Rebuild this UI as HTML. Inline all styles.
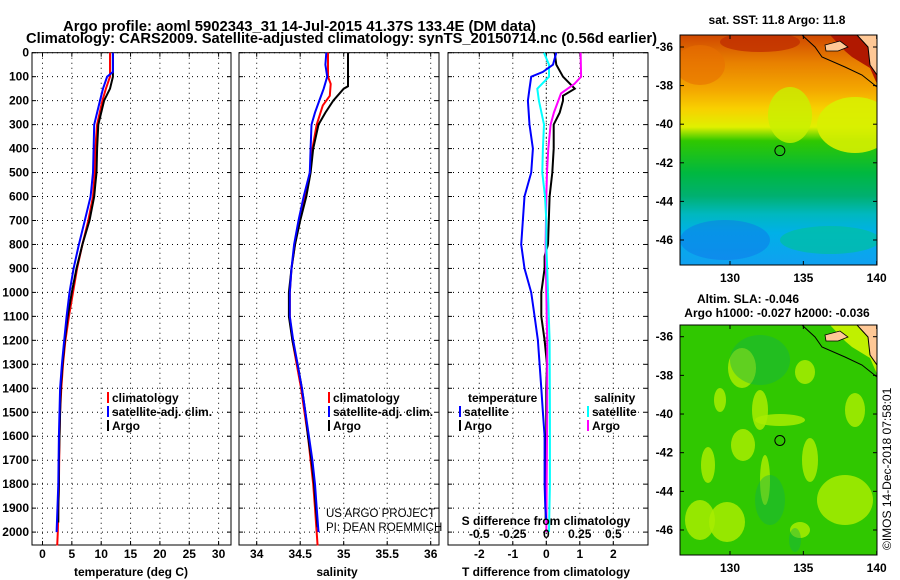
<!DOCTYPE html>
<html><head><meta charset="utf-8"><style>
body{margin:0;background:#fff}
svg{display:block;font-family:"Liberation Sans",sans-serif}
</style></head><body>
<svg id="c" width="900" height="580" viewBox="0 0 900 580"></svg>
<script>
// ---- data ----
const tDepth=[0,80,100,150,200,300,400,500,550,600,700,800,900,1000,1100,1200,1300,1400,1500,1600,1700,1800,1900,1960];
const tArgo=[12.0,12.0,12.0,11.5,10.5,9.5,9.3,9.2,9.0,8.8,8.0,6.8,5.8,5.0,4.3,3.8,3.4,3.1,3.0,2.9,2.8,2.8,2.7,2.7];
const tClimDepth=[0,100,150,200,300,400,500,600,700,800,900,1000,1100,1200,1300,1400,1500,1600,1800,2000,2056];
const tClim=[11.5,11.5,10.8,10.2,9.3,9.0,8.9,8.6,7.8,6.8,5.9,5.2,4.5,3.9,3.5,3.2,3.0,2.9,2.8,2.6,2.5];
const tSatDepth=[0,80,100,150,200,300,400,500,600,700,800,900,1000,1100,1200,1300,1400,1600,1800,2000];
const tSat=[12.0,12.0,11.0,10.3,9.8,8.8,8.7,8.6,8.2,7.2,6.2,5.3,4.6,4.1,3.7,3.3,3.0,2.8,2.7,2.4];
const sArgoDepth=[0,140,150,200,250,300,400,500,600,700,800,900,1000,1100,1200,1300,1400,1500,1600,1700,1800,1900,1980];
const sArgo=[35.05,35.05,35.0,34.88,34.79,34.71,34.65,34.62,34.57,34.50,34.44,34.40,34.37,34.37,34.41,34.47,34.52,34.56,34.59,34.63,34.66,34.68,34.70];
const sClimDepth=[0,100,130,180,220,300,400,500,600,700,800,900,1000,1100,1200,1300,1400,1500,1600,1700,1800,1900,2056];
const sClim=[34.82,34.82,34.85,34.84,34.76,34.69,34.64,34.61,34.56,34.49,34.44,34.40,34.38,34.38,34.41,34.46,34.51,34.55,34.59,34.62,34.65,34.67,34.70];
const sSatDepth=[0,50,100,150,200,250,300,400,500,600,700,800,900,1000,1100,1200,1300,1400,1500,1600,1700,1800,1900,2000];
const sSat=[34.80,34.79,34.81,34.77,34.72,34.67,34.63,34.62,34.61,34.54,34.48,34.43,34.40,34.38,34.38,34.42,34.47,34.52,34.56,34.60,34.64,34.67,34.69,34.71];
const dtSatDepth=[0,50,80,100,150,200,300,400,500,600,800,900,1000,1100,1200,1300,1400,1500,1600,1800,1900,1950];
const dtSat=[0.3,0.2,-0.1,-0.45,-0.5,-0.55,-0.5,-0.4,-0.45,-0.65,-0.75,-0.65,-0.45,-0.35,-0.25,-0.2,-0.15,-0.1,-0.05,-0.05,-0.03,0];
const dtArgoDepth=[0,50,100,150,180,200,250,300,400,500,600,800,850,900,1000,1100,1200,1300,1400,1600,1800,1950];
const dtArgo=[0.25,0.3,0.5,0.85,0.5,0.5,0.4,0.22,0.22,0.18,0.1,0.05,-0.05,-0.05,-0.15,-0.15,-0.05,0.02,0,0,0,-0.02];
const dsSatDepth=[0,50,100,150,200,300,400,500,600,700,800,900,1200,1500,1800,2000];
const dsSat=[-0.017,0.02,0.02,-0.067,-0.055,-0.017,-0.025,-0.03,-0.01,0,0,0.007,0.025,0.027,0.027,0.02];
const dsArgoDepth=[0,100,130,170,250,300,400,500,600,800,1000,1200,1500,2000];
const dsArgo=[0.256,0.26,0.21,0.11,0.057,0.032,0.015,0.005,0,-0.005,0,0.007,0.007,0];
const depthTicks=[0,100,200,300,400,500,600,700,800,900,1000,1100,1200,1300,1400,1500,1600,1700,1800,1900,2000];
const tTicks=[0,5,10,15,20,25,30];
const sTicks=[34,34.5,35,35.5,36];
const dtTicks=[-2,-1,0,1,2];
const dsTicks=[-0.5,-0.25,0,0.25,0.5];
const latTicks=[-36,-38,-40,-42,-44,-46];
const lonTicks=[130,135,140];

const NS='http://www.w3.org/2000/svg';
const svg=document.getElementById('c');
function el(tag,a,parent){const e=document.createElementNS(NS,tag);for(const k in a)e.setAttribute(k,a[k]);(parent||svg).appendChild(e);return e;}
function txt(x,y,s,a,parent){const e=el('text',Object.assign({x:x,y:y,'font-size':12,'font-weight':'bold',fill:'#000'},a||{}),parent);e.textContent=s;return e;}

const TOP=52.7, BOT=545;
const yD=d=>TOP+d*0.2397;
const xT=t=>42.5+t*5.87;
const xS=s=>256.7+(s-34)*87;
const xDT=v=>546.3+v*33.5;
const xDS=v=>546.3+v*134;

let t1=txt(63,31,'Argo profile: aoml 5902343_31 14-Jul-2015 41.37S 133.4E (DM data)',{'font-size':14.5,textLength:473,lengthAdjust:'spacingAndGlyphs'});

let t2=txt(26,43,'Climatology: CARS2009. Satellite-adjusted climatology: synTS_20150714.nc (0.56d earlier)',{'font-size':14.5,textLength:631,lengthAdjust:'spacingAndGlyphs'});


function panel(name,x0,x1,xs,ticks,fmt){
  const g=el('g',{});
  
  
  ticks.forEach(v=>{const x=xs(v);
    el('line',{x1:x,x2:x,y1:TOP,y2:BOT,stroke:'#000','stroke-width':1,'stroke-dasharray':'1,4'},g);
    el('line',{x1:x,x2:x,y1:TOP,y2:TOP+4,stroke:'#000'},g);el('line',{x1:x,x2:x,y1:BOT,y2:BOT-4,stroke:'#000'},g);
    if(fmt){txt(x,558,fmt(v),{'text-anchor':'middle'},g);}
  });
  depthTicks.forEach(d=>{const y=yD(d);
    el('line',{x1:x0,x2:x1,y1:y,y2:y,stroke:'#000','stroke-width':1,'stroke-dasharray':'1,4'},g);
    el('line',{x1:x0,x2:x0+4,y1:y,y2:y,stroke:'#000'},g);el('line',{x1:x1-4,x2:x1,y1:y,y2:y,stroke:'#000'},g);
  });
  el('rect',{x:x0,y:TOP,width:x1-x0,height:BOT-TOP,fill:'none',stroke:'#000','stroke-width':1},g);
  return g;
}
function line(g,name,depths,vals,xs,color,w){
  const p=el('polyline',{points:depths.map((d,i)=>xs(vals[i]).toFixed(1)+','+yD(d).toFixed(1)).join(' '),fill:'none',stroke:color,'stroke-width':w||2},g);
  
  
}
const g1=panel('temperature-panel',32,231,xT,tTicks,v=>String(v));
const g2=panel('salinity-panel',239,439,xS,sTicks,v=>String(v));
const g3=panel('difference-panel',448,648,xDT,dtTicks,v=>String(v));
depthTicks.forEach(d=>{const l=txt(29,yD(d)+4,String(d),{'text-anchor':'end'});
  });
dsTicks.forEach(v=>{const l=txt(xDS(v),538,'',{'text-anchor':'middle'});
  l.textContent=(v===0?'0':(v<0?'-':'')+'0'+String(Math.abs(v)).slice(1));
  });
let lb;
lb=txt(131,576,'temperature (deg C)',{'text-anchor':'middle'});
lb=txt(337,576,'salinity',{'text-anchor':'middle'});
lb=txt(546,576,'T difference from climatology',{'text-anchor':'middle'});
lb=txt(546,525,'S difference from climatology',{'text-anchor':'middle'});

line(g1,'temp-climatology',tClimDepth,tClim,xT,'#ff0000');
line(g1,'temp-argo',tDepth,tArgo,xT,'#000000');
line(g1,'temp-satellite',tSatDepth,tSat,xT,'#0000ff');
line(g2,'sal-climatology',sClimDepth,sClim,xS,'#ff0000');
line(g2,'sal-argo',sArgoDepth,sArgo,xS,'#000000');
line(g2,'sal-satellite',sSatDepth,sSat,xS,'#0000ff');
el('line',{x1:xDT(0),x2:xDT(0),y1:TOP,y2:BOT,stroke:'#000','stroke-dasharray':'1,3'},g3);
line(g3,'t-diff-argo',dtArgoDepth,dtArgo,xDT,'#000000');
line(g3,'s-diff-argo',dsArgoDepth,dsArgo,xDS,'#ff00ff');
line(g3,'s-diff-satellite',dsSatDepth,dsSat,xDS,'#00ffff');
line(g3,'t-diff-satellite',dtSatDepth,dtSat,xDT,'#0000ff');

function leg(x,y,color,label,name){
  const g=el('g',{});
  el('rect',{x:x,y:y-10,width:2,height:11,fill:color},g);
  txt(x+5,y,label,{},g);
}
leg(107,402,'#ff0000','climatology','legend-temp-climatology');
leg(107,416,'#0000ff','satellite-adj. clim.','legend-temp-satellite');
leg(107,430,'#000','Argo','legend-temp-argo');
leg(328,402,'#ff0000','climatology','legend-sal-climatology');
leg(328,416,'#0000ff','satellite-adj. clim.','legend-sal-satellite');
leg(328,430,'#000','Argo','legend-sal-argo');
lb=txt(468,402,'temperature');
leg(459,416,'#0000ff','satellite','legend-dt-satellite');
leg(459,430,'#000','Argo','legend-dt-argo');
lb=txt(594,402,'salinity');
leg(587,416,'#00ffff','satellite','legend-ds-satellite');
leg(587,430,'#ff00ff','Argo','legend-ds-argo');
lb=txt(326,517,'US ARGO PROJECT',{'font-weight':'normal','font-size':11.5});
lb=txt(326,531,'PI: DEAN ROEMMICH',{'font-weight':'normal','font-size':11.5});

// maps
const defs=el('defs',{});
const gr1=el('linearGradient',{id:'sst',x1:0,y1:0,x2:0,y2:1},defs);
[[0,'#d04800'],[0.12,'#e88000'],[0.24,'#f4a800'],[0.32,'#f8d000'],[0.4,'#e0f000'],[0.46,'#30c800'],[0.6,'#00b840'],[0.7,'#00b070'],[0.78,'#00b8c0'],[0.86,'#00b0e8'],[1,'#10a0f0']].forEach(s=>el('stop',{offset:s[0],'stop-color':s[1]},gr1));
function map(name,y0,y1,titles,sst){
  const g=el('g',{});
  const lat0=sst?47:336.7, lat1=sst?240:530, dl=(lat1-lat0)/10;
  const yL=l=>lat0+(-36-l)*dl;
  const xL=l=>730+(l-130)*14.67;
  const cp='clip-'+name;
  const c=el('clipPath',{id:cp},defs);el('rect',{x:680,y:y0,width:197,height:y1-y0},c);
  const inner=el('g',{'clip-path':'url(#'+cp+')'},g);
  if(sst){
    el('rect',{x:680,y:y0,width:197,height:y1-y0,fill:'url(#sst)'},inner);
    el('ellipse',{cx:855,cy:125,rx:38,ry:28,fill:'#d8f000',opacity:0.9},inner);
    el('ellipse',{cx:790,cy:115,rx:22,ry:28,fill:'#c8f000',opacity:0.8},inner);
    el('ellipse',{cx:760,cy:42,rx:40,ry:10,fill:'#c03000',opacity:0.8},inner);
    el('ellipse',{cx:700,cy:65,rx:25,ry:20,fill:'#e87000',opacity:0.6},inner);
    el('ellipse',{cx:830,cy:240,rx:50,ry:14,fill:'#00c0a0',opacity:0.7},inner);
    el('ellipse',{cx:725,cy:240,rx:45,ry:20,fill:'#1070e8',opacity:0.45},inner);
  }else{
    el('rect',{x:680,y:y0,width:197,height:y1-y0,fill:'#30c800'},inner);
    [[742,368,14,20],[805,372,10,12],[855,410,10,17],[743,445,12,16],[708,465,7,18],[810,460,8,22],[845,500,28,25],[727,522,18,20],[765,480,5,25],[780,420,25,6],[760,410,8,20],[720,400,6,12],[800,530,10,8],[700,520,15,20]].forEach(b=>
      el('ellipse',{cx:b[0],cy:b[1],rx:b[2],ry:b[3],fill:'#a8ec00',opacity:0.85},inner));
    [[760,360,30,25],[770,500,15,25],[795,540,6,12]].forEach(b=>el('ellipse',{cx:b[0],cy:b[1],rx:b[2],ry:b[3],fill:'#10b050',opacity:0.4},inner));
  }
  const ty=y0;
  el('path',{d:`M830,${ty} L845,${ty+16} L852,${ty+22} L870,${ty+33} L877,${ty+49} L877,${ty} Z`,fill:sst?'#b01800':'#c0f000'},inner);
  el('path',{d:`M857,${ty} L868,${ty+12} L870,${ty+30} L877,${ty+40} L877,${ty} Z`,fill:'#ffc896',stroke:'#000','stroke-width':1},inner);
  el('path',{d:`M825,${ty+10} L840,${ty+6} L848,${ty+12} L838,${ty+16} L826,${ty+16} Z`,fill:'#ffc896',stroke:'#000','stroke-width':0.8},inner);
  el('polyline',{points:`802,${ty} 815,${ty+12} 822,${ty+22} 845,${ty+32} 862,${ty+40} 877,${ty+52}`,fill:'none',stroke:'#000','stroke-width':1},inner);
  el('circle',{cx:xL(133.4),cy:yL(-41.37),r:5,fill:'none',stroke:'#000','stroke-width':1},g);
  el('rect',{x:680,y:y0,width:197,height:y1-y0,fill:'none',stroke:'#000'},g);
  latTicks.forEach(l=>{const y=yL(l);el('line',{x1:680,x2:684,y1:y,y2:y,stroke:'#000'},g);el('line',{x1:877,x2:873,y1:y,y2:y,stroke:'#000'},g);
    txt(673,y+4,String(l),{'text-anchor':'end'},g);});
  lonTicks.forEach(l=>{const x=xL(l);el('line',{x1:x,x2:x,y1:y1,y2:y1-4,stroke:'#000'},g);el('line',{x1:x,x2:x,y1:y0,y2:y0+4,stroke:'#000'},g);
    txt(x,y1+17,String(l),{'text-anchor':'middle'},g);});
  titles.forEach(tt=>{txt(tt[0],tt[1],tt[2],{'text-anchor':'middle'},g);});
}
map('sst-map',35,265,[[777,24,'sat. SST: 11.8 Argo: 11.8']],true);
map('sla-map',325,555,[[748,303,'Altim. SLA: -0.046'],[777,317,'Argo h1000: -0.027 h2000: -0.036']],false);
lb=txt(0,0,'©IMOS 14-Dec-2018 07:58:01',{'font-weight':'normal','font-size':12,transform:'translate(891,550) rotate(-90)'});

</script>
</body></html>
